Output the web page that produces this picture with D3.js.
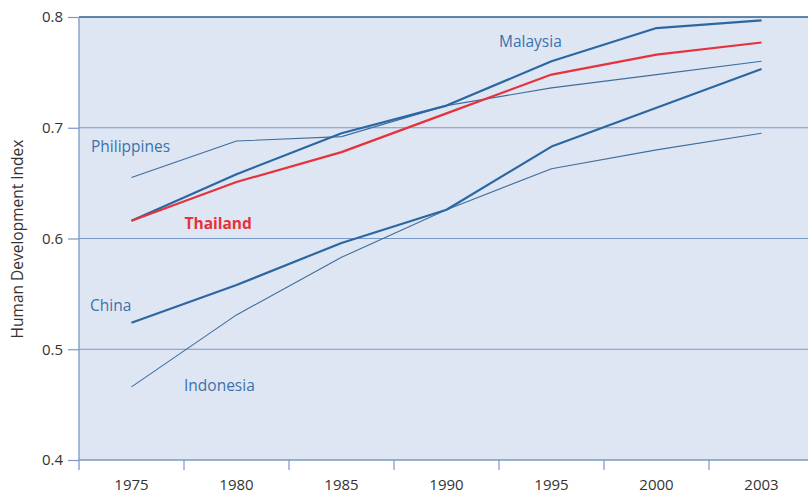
<!DOCTYPE html>
<html><head><meta charset="utf-8">
<script src="https://cdn.jsdelivr.net/npm/d3@7"></script>
<style>body{margin:0;background:#fff}svg{display:block}text{font-family:"Open Sans","Noto Sans",sans-serif}</style>
</head><body><svg id="c" width="808" height="495"></svg>
<script>
const years = ["1975","1980","1985","1990","1995","2000","2003"];
const yTicks = [0.4,0.5,0.6,0.7,0.8];
const malaysia    = [0.616,0.658,0.695,0.720,0.760,0.790,0.797];
const thailand    = [0.616,0.651,0.678,0.713,0.748,0.766,0.777];
const philippines = [0.655,0.688,0.692,0.720,0.736,0.748,0.760];
const china       = [0.524,0.558,0.596,0.626,0.683,0.718,0.753];
const indonesia   = [0.466,0.531,0.583,0.626,0.663,0.680,0.695];
const series = [
  {name:"Philippines", values:philippines, color:"#3e6e9c", width:1.1},
  {name:"Indonesia", values:indonesia, color:"#3e6e9c", width:1.1},
  {name:"China", values:china, color:"#2a67a3", width:2.2},
  {name:"Malaysia", values:malaysia, color:"#2a67a3", width:2.2},
  {name:"Thailand", values:thailand, color:"#e5323c", width:2.2}
];
const labels = [
  {text:"Malaysia", x:"1990", dx:52.5, v:0.7726, color:"#3a72ab", bold:false},
  {text:"Philippines", x:"1975", dx:-40.5, v:0.678, color:"#3a72ab", bold:false},
  {text:"Thailand", x:"1980", dx:-52, v:0.6086, color:"#e5323c", bold:true},
  {text:"China", x:"1975", dx:-41.5, v:0.5345, color:"#3a72ab", bold:false},
  {text:"Indonesia", x:"1980", dx:-52.5, v:0.4623, color:"#3a72ab", bold:false}
];

const svg = d3.select("#c");
const L=79, T=17, B=460, R=814;
const x = d3.scaleBand().domain(years).range([L,R]);
const y = d3.scaleLinear().domain([0.4,0.8]).range([B,T]);
const cx = d => x(d)+x.bandwidth()/2;

svg.append("rect").attr("x",L).attr("y",T).attr("width",R-L).attr("height",B-T).attr("fill","#dfe6f3");

// gridlines
svg.append("g").selectAll("line").data([0.5,0.6,0.7]).join("line")
  .attr("x1",L).attr("x2",R).attr("y1",d=>y(d)).attr("y2",d=>y(d))
  .attr("stroke","#7a98c6").attr("stroke-width",1);
svg.append("line").attr("x1",L).attr("x2",R).attr("y1",y(0.8)).attr("y2",y(0.8))
  .attr("stroke","#2f5f8c").attr("stroke-width",1.3);

// y axis
const yAxis = d3.axisLeft(y).tickValues(yTicks).tickFormat(d3.format(".1f")).tickSize(11).tickPadding(5);
const gy = svg.append("g").attr("transform",`translate(${L},0)`).call(yAxis);
gy.select(".domain").remove();
gy.append("line").attr("x1",0).attr("x2",0).attr("y1",T).attr("y2",B+10).attr("stroke","#7a98c6").attr("stroke-width",1.3);
gy.selectAll(".tick line").attr("stroke","#7a98c6").attr("stroke-width",1.2);
gy.selectAll(".tick text").attr("fill","#333").attr("font-size",15).attr("font-family","'Open Sans',sans-serif");

// x axis
const xAxis = d3.axisBottom(x).tickSize(0).tickPadding(19);
const gx = svg.append("g").attr("transform",`translate(0,${B})`).call(xAxis);
gx.select(".domain").remove();
gx.append("line").attr("x1",L).attr("x2",R).attr("stroke","#7a98c6").attr("stroke-width",1.3);
gx.selectAll(".tick text").attr("fill","#333").attr("font-size",15).attr("font-family","'Open Sans',sans-serif");
gx.selectAll("line.sep").data(years.slice(1)).join("line").attr("class","sep")
  .attr("x1",d=>x(d)).attr("x2",d=>x(d)).attr("y1",0).attr("y2",10)
  .attr("stroke","#7a98c6").attr("stroke-width",1.2);

// y title
svg.append("text").attr("transform",`translate(23,239) rotate(-90)`)
  .attr("text-anchor","middle").attr("font-size",15.5).attr("fill","#333")
  .text("Human Development Index");

// lines
const line = d3.line().x((d,i)=>cx(years[i])).y(d=>y(d));
svg.append("g").selectAll("path").data(series).join("path")
  .attr("d",d=>line(d.values)).attr("fill","none")
  .attr("stroke",d=>d.color).attr("stroke-width",d=>d.width)
  .attr("stroke-linejoin","round");

// labels
svg.append("g").selectAll("text").data(labels).join("text")
  .attr("x",d=>cx(d.x)+d.dx).attr("y",d=>y(d.v))
  .attr("font-size",15.5).attr("fill",d=>d.color)
  .attr("font-weight",d=>d.bold?"bold":"normal")
  .text(d=>d.text);
</script></body></html>
